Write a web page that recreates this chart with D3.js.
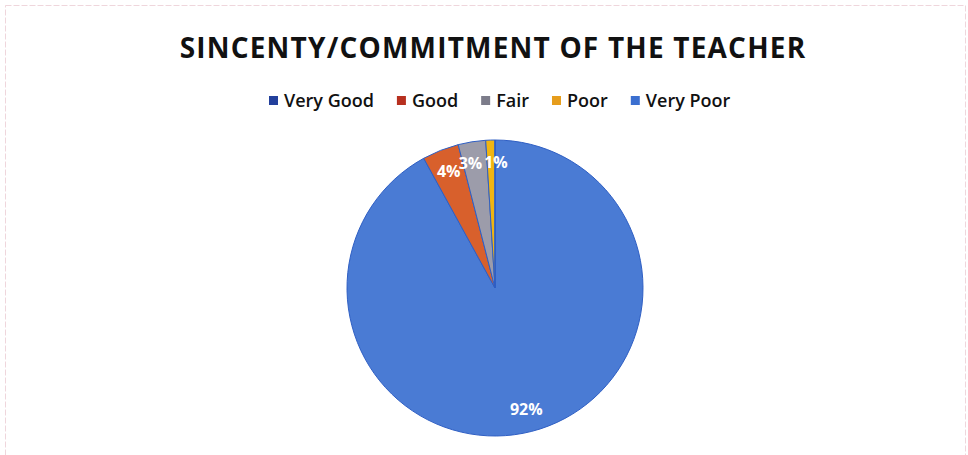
<html>
  <head>
    <style>
      body { margin: 0; background: #fff; }
      text { font-family: "Open Sans", sans-serif; }
    </style>
  </head>
  <body>
    <script src="https://d3js.org/d3.v7.min.js"></script>
    <script>
    // chart data
    var categories = ["Very Good", "Good", "Fair", "Poor", "Very Poor"];
    var values = [92, 4, 3, 1, 0];
    var sliceColors = ["#4a7bd4", "#d8602c", "#9c9caa", "#f0b512", "#4a7bd4"];
    var legendColors = ["#23409c", "#b7301f", "#7c7c8a", "#e69d1c", "#3b6fd0"];
    var title = "SINCENTY/COMMITMENT OF THE TEACHER";

    var width = 968, height = 455;

    var svg = d3.select("body").append("svg")
        .attr("width", width)
        .attr("height", height);

    // faint frame of the scanned page
    svg.append("rect")
        .attr("x", 5.5).attr("y", 5.5)
        .attr("width", width - 8).attr("height", height - 2)
        .attr("fill", "none")
        .attr("stroke", "#efd6dc")
        .attr("stroke-dasharray", "6,2");

    svg.append("text")
        .attr("x", 493).attr("y", 58)
        .attr("text-anchor", "middle")
        .attr("font-size", 28)
        .attr("font-weight", 700)
        .attr("letter-spacing", 1.2)
        .attr("fill", "#111")
        .text(title);

    // legend, laid out left to right
    var legend = svg.append("g").attr("transform", "translate(269,100)");
    var lx = 0;
    categories.forEach(function(c, i) {
      var g = legend.append("g").attr("transform", "translate(" + lx + ",0)");
      g.append("rect").attr("x", 0).attr("y", -4).attr("width", 9).attr("height", 9)
          .attr("fill", legendColors[i]);
      var t = g.append("text").attr("x", 15).attr("y", 6.5)
          .attr("font-size", 18).attr("font-weight", 600).attr("fill", "#111")
          .text(c);
      lx += 15 + t.node().getComputedTextLength() + 23;
    });

    // pie
    var cx = 495, cy = 288, r = 148;
    var pie = d3.pie().sort(null)(values);
    var arc = d3.arc().innerRadius(0).outerRadius(r);
    var labelArc = d3.arc().innerRadius(r * 0.85).outerRadius(r * 0.85);

    var g = svg.append("g").attr("transform", "translate(" + cx + "," + cy + ")");
    g.selectAll("path").data(pie).enter().append("path")
        .attr("d", arc)
        .attr("fill", function(d, i) { return sliceColors[i]; })
        .attr("stroke", "#2f5fc4")
        .attr("stroke-width", 1);

    // the two thin slices (Fair, Poor) share a split point so their labels just touch
    var split = (labelArc.centroid(pie[2])[0] + labelArc.centroid(pie[3])[0]) / 2;

    g.selectAll("text.lbl").data(pie.filter(function(d) { return d.value > 0; }))
      .enter().append("text")
        .attr("class", "lbl")
        .attr("x", function(d) {
          if (d.index === 2) return split - 1;
          if (d.index === 3) return split + 1;
          return labelArc.centroid(d)[0];
        })
        .attr("y", function(d) { return labelArc.centroid(d)[1]; })
        .attr("text-anchor", function(d) {
          return d.index === 2 ? "end" : d.index === 3 ? "start" : "middle";
        })
        .attr("dy", "0.35em")
        .attr("font-size", 16)
        .attr("font-weight", 700)
        .attr("fill", "#fff")
        .text(function(d) { return d.value + "%"; });
    </script>
  </body>
</html>
